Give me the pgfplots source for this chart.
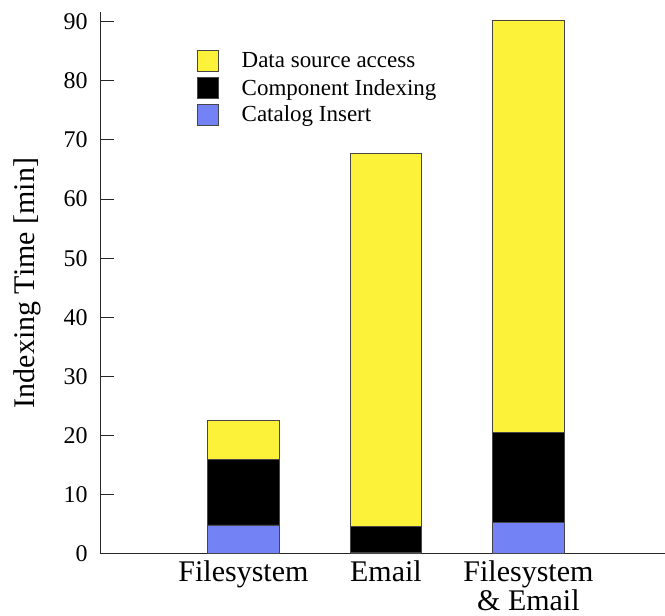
\documentclass[border=0pt]{standalone}
\usepackage{fontspec}
\setmainfont{Liberation Serif}
\newfontfamily\lserif{Liberation Serif}
\usepackage{pgfplots}
\pgfplotsset{compat=1.18}
\definecolor{cyel}{RGB}{252,242,58}
\definecolor{cblu}{RGB}{115,130,245}
\definecolor{cedge}{RGB}{70,70,70}
\begin{document}
\begin{tikzpicture}
\begin{axis}[
  at={(0pt,0pt)}, anchor=south west,
  scale only axis,
  width=564pt, height=542.3pt,
  ybar stacked,
  bar width=71.5pt,
  xmin=-1.0, xmax=2.955,
  ymin=0, ymax=91.65,
  xtick={0,1,2},
  xticklabels={Filesystem, Email, {Filesystem\\\& Email}},
  ytick={0,10,...,90},
  axis x line=bottom, axis y line=left,
  axis line style={-, line width=1pt, black!85},
  tick align=inside,
  major tick length=13pt,
  xtick style={draw=none},
  ytick style={line width=1pt, black!85},
  /pgf/number format/assume math mode=true,
  yticklabel style={font=\lserif\fontsize{24}{24}\selectfont, inner sep=0pt, xshift=-13pt},
  xticklabel style={font=\lserif\fontsize{30}{26}\selectfont, align=center, inner sep=0pt, yshift=-7pt},
  ylabel={Indexing Time [min]},
  ylabel style={font=\lserif\fontsize{30}{30}\selectfont, at={(axis description cs:-0.131,0.5)}, anchor=center, rotate=0},
  legend style={draw=none, fill=none, at={(rel axis cs:0.170,0.930)}, anchor=north west,
    font=\lserif\fontsize{23}{23}\selectfont, inner sep=0pt, row sep=5pt,
    nodes={inner sep=0pt}, column sep=23pt},
  legend cell align=left,
  reverse legend,
  legend image code/.code={\draw[#1, draw=cedge, line width=0.8pt] (0pt,-10.5pt) rectangle (21pt,10.5pt);},
]
\addplot[fill=cblu, draw=cedge, line width=0.8pt] coordinates {(0,4.9) (1,0.2) (2,5.25)};
\addplot[fill=black, draw=cedge, line width=0.8pt] coordinates {(0,11.1) (1,4.4) (2,15.35)};
\addplot[fill=cyel, draw=cedge, line width=0.8pt] coordinates {(0,6.6) (1,63.1) (2,69.7)};
\legend{Catalog Insert, Component Indexing, Data source access}
\end{axis}
\path (-101pt,-61.5pt) rectangle (564pt,554.3pt);
\end{tikzpicture}
\end{document}
